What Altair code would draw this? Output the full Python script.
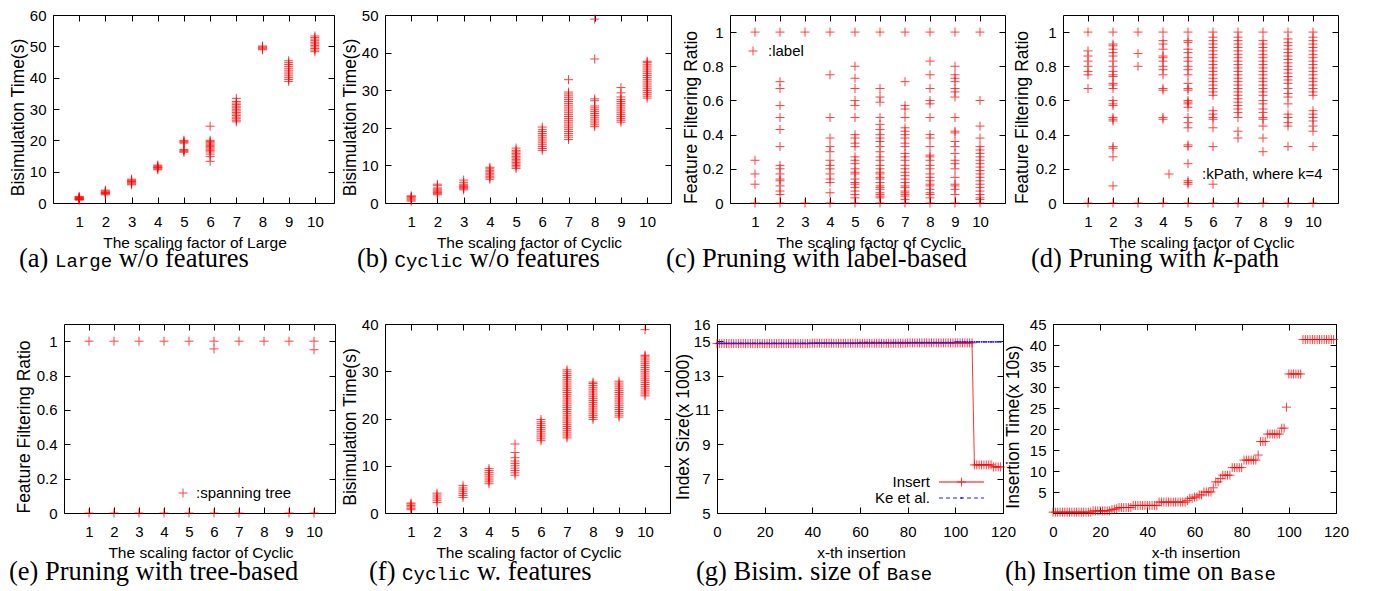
import altair as alt
import pandas as pd

# ------------------------------------------------------------------ data
# (a) Bisimulation time, Large w/o features  (scaling factor -> times)
A_LARGE = {
    1: [0.9, 1.1, 1.3, 1.5, 1.7, 1.9, 2.1, 1.2, 1.6],
    2: [2.6, 2.9, 3.2, 3.5, 3.8, 4.1, 3.0, 3.4],
    3: [5.8, 6.1, 6.4, 6.7, 7.0, 7.3, 7.6, 6.9],
    4: [10.6, 10.9, 11.2, 11.5, 11.8, 12.1, 11.4],
    5: [16.2, 16.5, 16.8, 17.1, 19.1, 19.4, 19.7, 20.0],
    6: [13.3, 14.8, 15.6, 16.3, 16.8, 17.2, 17.6, 18.0, 18.4, 18.8, 19.2, 19.6, 20.0, 24.5],
    7: [25.9, 26.4, 26.9, 27.4, 27.9, 28.4, 28.9, 29.4, 29.9, 30.4, 30.9, 31.4, 31.9, 32.4, 33.4],
    8: [48.9, 49.2, 49.5, 49.8, 50.1],
    9: [38.8, 39.4, 40.0, 40.6, 41.2, 41.8, 42.4, 43.0, 43.6, 44.2, 44.8, 45.4],
    10: [48.3, 48.8, 49.3, 49.8, 50.3, 50.8, 51.3, 51.8, 52.3, 52.8, 53.3],
}
# (b) Bisimulation time, Cyclic w/o features
B_CYCLIC = {
    1: [0.5, 0.8, 1.1, 1.4, 1.7, 1.9],
    2: [2.2, 2.5, 2.8, 3.1, 3.4, 3.7, 4.0, 4.6, 5.0],
    3: [3.5, 3.8, 4.1, 4.4, 4.7, 5.0, 5.5, 6.1],
    4: [6.3, 6.7, 7.1, 7.5, 7.9, 8.3, 8.7, 9.1, 9.5],
    5: [9.2, 9.6, 10.0, 10.4, 10.8, 11.2, 11.6, 12.0, 12.4, 12.8, 13.2, 13.6, 14.0, 14.6],
    6: [14.0, 14.5, 15.0, 15.5, 16.0, 16.5, 17.0, 17.5, 18.0, 18.5, 19.0, 19.5, 20.2],
    7: [16.9, 17.5, 18.0, 18.5, 19.0, 19.5, 20.0, 20.5, 21.0, 21.5, 22.0, 22.5, 23.0, 23.5,
        24.0, 24.5, 25.0, 25.5, 26.0, 26.5, 27.0, 27.5, 28.0, 28.5, 29.0, 29.5, 32.8],
    8: [20.3, 20.8, 21.3, 21.8, 22.3, 22.8, 23.3, 23.8, 24.3, 24.8, 25.3, 25.8, 27.2, 27.7,
        38.3, 48.9],
    9: [21.5, 22.0, 22.5, 23.0, 23.5, 24.0, 24.5, 25.0, 25.5, 26.0, 26.5, 27.0, 27.5, 28.2,
        29.3, 30.7],
    10: [27.9, 28.4, 28.9, 29.4, 29.9, 30.4, 30.9, 31.4, 31.9, 32.4, 32.9, 33.4, 33.9, 34.4,
         34.9, 35.4, 35.9, 36.4, 36.9, 37.4, 37.7],
}
# (c) Feature filtering ratio, label-based pruning
C_LABEL = {
    1: [1.0, 0.25, 0.17, 0.11, 0.0],
    2: [1.0, 0.71, 0.67, 0.57, 0.5, 0.43, 0.33, 0.22, 0.2, 0.17, 0.14, 0.13, 0.1, 0.07, 0.05, 0.0],
    3: [1.0, 0.0],
    4: [1.0, 0.75, 0.5, 0.38, 0.33, 0.3, 0.25, 0.22, 0.2, 0.17, 0.14, 0.12, 0.06, 0.0],
    5: [1.0, 0.8, 0.73, 0.67, 0.6, 0.57, 0.5, 0.4, 0.38, 0.35, 0.33, 0.27, 0.25, 0.23, 0.2,
        0.18, 0.17, 0.14, 0.12, 0.11, 0.09, 0.07, 0.05, 0.03, 0.0],
    6: [1.0, 0.67, 0.62, 0.59, 0.5, 0.46, 0.43, 0.4, 0.38, 0.36, 0.33, 0.3, 0.27, 0.25, 0.22,
        0.2, 0.18, 0.17, 0.15, 0.14, 0.12, 0.1, 0.09, 0.08, 0.06, 0.05, 0.04, 0.03, 0.0],
    7: [1.0, 0.71, 0.57, 0.55, 0.5, 0.44, 0.42, 0.4, 0.38, 0.35, 0.33, 0.29, 0.27, 0.25, 0.22,
        0.2, 0.18, 0.16, 0.14, 0.12, 0.1, 0.09, 0.07, 0.06, 0.05, 0.04, 0.02, 0.0],
    8: [1.0, 0.83, 0.75, 0.67, 0.6, 0.58, 0.5, 0.4, 0.38, 0.33, 0.28, 0.27, 0.25, 0.22, 0.2,
        0.17, 0.15, 0.13, 0.11, 0.1, 0.08, 0.06, 0.05, 0.03, 0.0],
    9: [1.0, 0.8, 0.75, 0.73, 0.71, 0.67, 0.65, 0.62, 0.5, 0.42, 0.41, 0.36, 0.33, 0.29, 0.25,
        0.23, 0.2, 0.15, 0.11, 0.1, 0.08, 0.05, 0.0],
    10: [1.0, 0.6, 0.45, 0.38, 0.33, 0.31, 0.29, 0.27, 0.25, 0.23, 0.21, 0.19, 0.17, 0.15, 0.13,
         0.11, 0.09, 0.07, 0.05, 0.03, 0.02, 0.0],
}
# (d) Feature filtering ratio, k-path pruning
D_KPATH = {
    1: [1.0, 0.89, 0.86, 0.83, 0.8, 0.77, 0.75, 0.67, 0.0],
    2: [1.0, 0.93, 0.92, 0.9, 0.88, 0.86, 0.83, 0.8, 0.77, 0.75, 0.74, 0.7, 0.69, 0.67, 0.6,
        0.58, 0.57, 0.5, 0.49, 0.48, 0.33, 0.32, 0.27, 0.1, 0.0],
    3: [1.0, 0.875, 0.8, 0.0],
    4: [1.0, 0.95, 0.93, 0.9, 0.86, 0.85, 0.83, 0.8, 0.78, 0.75, 0.67, 0.66, 0.5, 0.49, 0.0],
    5: [1.0, 0.95, 0.94, 0.9, 0.88, 0.85, 0.83, 0.8, 0.78, 0.75, 0.7, 0.67, 0.66, 0.6, 0.59,
        0.58, 0.56, 0.5, 0.47, 0.44, 0.34, 0.33, 0.23, 0.13, 0.12, 0.11, 0.0],
    6: [1.0, 0.97, 0.95, 0.93, 0.91, 0.89, 0.87, 0.85, 0.83, 0.81, 0.79, 0.77, 0.75, 0.73,
        0.71, 0.69, 0.67, 0.65, 0.63, 0.54, 0.52, 0.5, 0.49, 0.44, 0.33, 0.11, 0.0],
    7: [1.0, 0.97, 0.95, 0.93, 0.91, 0.89, 0.87, 0.85, 0.83, 0.81, 0.79, 0.77, 0.75, 0.73,
        0.71, 0.69, 0.67, 0.65, 0.63, 0.61, 0.59, 0.57, 0.55, 0.53, 0.5, 0.42, 0.38, 0.0],
    8: [1.0, 0.95, 0.93, 0.91, 0.89, 0.87, 0.85, 0.83, 0.81, 0.79, 0.77, 0.75, 0.73, 0.71,
        0.69, 0.67, 0.65, 0.63, 0.6, 0.58, 0.55, 0.53, 0.5, 0.49, 0.45, 0.38, 0.3, 0.0],
    9: [1.0, 0.96, 0.94, 0.92, 0.9, 0.88, 0.86, 0.84, 0.82, 0.8, 0.78, 0.76, 0.74, 0.72, 0.7,
        0.67, 0.64, 0.62, 0.58, 0.52, 0.5, 0.47, 0.45, 0.33, 0.0],
    10: [1.0, 0.97, 0.95, 0.93, 0.91, 0.89, 0.87, 0.85, 0.83, 0.81, 0.79, 0.77, 0.75, 0.73,
         0.71, 0.69, 0.67, 0.65, 0.63, 0.54, 0.52, 0.5, 0.48, 0.45, 0.42, 0.33, 0.0],
}
# (e) Feature filtering ratio, tree-based pruning
E_TREE = {
    1: [1.0, 0.0], 2: [1.0, 0.0], 3: [1.0, 0.0], 4: [1.0, 0.0], 5: [1.0, 0.0],
    6: [1.0, 0.955, 0.0], 7: [1.0, 0.0], 8: [1.0], 9: [1.0, 0.0], 10: [1.0, 0.95, 0.0],
}
# (f) Bisimulation time, Cyclic with features
F_CYCLIC = {
    1: [0.7, 1.0, 1.3, 1.6, 1.9, 2.1],
    2: [2.2, 2.6, 3.0, 3.4, 3.8, 4.2],
    3: [3.3, 3.7, 4.1, 4.5, 4.9, 5.3, 5.8],
    4: [6.2, 6.6, 7.0, 7.4, 7.8, 8.2, 8.6, 9.0, 9.4],
    5: [8.0, 8.5, 9.0, 9.5, 10.0, 10.5, 11.0, 11.7, 12.8, 14.6],
    6: [15.3, 15.7, 16.1, 16.5, 16.9, 17.3, 17.7, 18.1, 18.5, 18.9, 19.3, 19.8],
    7: [15.9, 16.3, 16.7, 17.1, 17.5, 17.9, 18.3, 18.7, 19.1, 19.5, 19.9, 20.3, 20.7, 21.1,
        21.5, 21.9, 22.3, 22.7, 23.1, 23.5, 23.9, 24.3, 24.7, 25.1, 25.5, 25.9, 26.3, 26.7,
        27.1, 27.5, 27.9, 28.3, 28.7, 29.1, 29.5, 29.9, 30.3],
    8: [19.8, 20.2, 20.6, 21.0, 21.4, 21.8, 22.2, 22.6, 23.0, 23.4, 23.8, 24.2, 24.6, 25.0,
        25.4, 25.8, 26.2, 26.6, 27.0, 27.4, 27.7],
    9: [20.3, 20.7, 21.1, 21.5, 21.9, 22.3, 22.7, 23.1, 23.5, 23.9, 24.3, 24.7, 25.1, 25.5,
        25.9, 26.3, 26.7, 27.1, 27.5, 27.9],
    10: [24.8, 25.2, 25.6, 26.0, 26.4, 26.8, 27.2, 27.6, 28.0, 28.4, 28.8, 29.2, 29.6, 30.0,
         30.4, 30.8, 31.2, 31.6, 32.0, 32.4, 32.8, 33.2, 33.4, 38.8],
}
# (g) Index size (x1000) per insertion: runs of (value, count) starting at insertion 0
G_INSERT_RUNS = [(14.86, 40), (14.88, 40), (14.9, 28), (7.8, 8), (7.68, 4)]
G_KE_RUNS = [(14.88, 60), (14.92, 40), (14.96, 20)]
# (h) Insertion time (x10s) per insertion: runs of (value, count)
H_RUNS = [(0.2, 17), (0.5, 8), (0.8, 1), (0.9, 1), (1.0, 1), (1.3, 6), (1.8, 11), (2.6, 12),
          (3.0, 1), (3.5, 2), (3.8, 2), (4.3, 2), (5.0, 4), (6.0, 1), (7.4, 2), (8.2, 1),
          (9.0, 4), (10.8, 5), (12.6, 6), (13.8, 1), (17.0, 3), (18.8, 6), (20.2, 2),
          (25.2, 1), (33.1, 6), (41.3, 14)]

SCALE_TICKS = [1, 2, 3, 4, 5, 6, 7, 8, 9, 10]
RATIO_TICKS = [0, 0.2, 0.4, 0.6, 0.8, 1]
INS_TICKS = [0, 20, 40, 60, 80, 100, 120]

# ------------------------------------------------------------------ style
SANS = "Liberation Sans"
SERIF = "Liberation Serif"
MONO = "Liberation Mono"
RED = "#ff0000"
BLUE = "#1f1fff"
PLUS = "M-1,0L1,0M0,-1L0,1"
LABEL_SIZE = 15
XTITLE_SIZE = 15.5
YTITLE_SIZE = 17.5
SERIF_SIZE = 26.5
MONO_SIZE = 19

# panel geometry (plot-area left/top in page pixels, width, height)
GEOM = {
    "a": (52, 14, 281, 188), "b": (384, 14, 286, 188), "c": (729, 14, 275, 188),
    "d": (1062, 14, 275, 188), "e": (63, 324, 271, 189), "f": (384, 324, 285, 189),
    "g": (716, 324, 286, 189), "h": (1052, 324, 283, 189),
}

TIMES = {' ': 250, '(': 333, ')': 333, 'a': 444, 'b': 500, 'c': 444, 'd': 500, 'e': 444,
         'f': 333, 'g': 500, 'h': 500, 'i': 278, 'k': 500, 'l': 278, 'm': 778, 'n': 500,
         'o': 500, 'p': 500, 'r': 333, 's': 389, 't': 278, 'u': 500, 'w': 722, 'z': 444,
         '.': 250, '/': 278, '-': 333, 'B': 667, 'I': 333, 'P': 556}


def seg_width(text, kind):
    if kind == "mono":
        return len(text) * 0.6 * MONO_SIZE
    if kind == "italic":
        return sum(444 if c == 'k' else TIMES.get(c, 500) for c in text) / 1000 * SERIF_SIZE
    return sum(TIMES.get(c, 500) for c in text) / 1000 * SERIF_SIZE


# caption: (start x, baseline y) in page pixels and segments
CAPTIONS = {
    "a": (18, 266, [("(a) ", "serif"), ("Large", "mono"), (" w/o features", "serif")]),
    "b": (356, 266, [("(b) ", "serif"), ("Cyclic", "mono"), (" w/o features", "serif")]),
    "c": (665, 266, [("(c) Pruning with label-based", "serif")]),
    "d": (1030, 266, [("(d) Pruning with ", "serif"), ("k", "italic"), ("-path", "serif")]),
    "e": (8, 580, [("(e) Pruning with tree-based", "serif")]),
    "f": (368, 580, [("(f) ", "serif"), ("Cyclic", "mono"), (" w. features", "serif")]),
    "g": (695, 580, [("(g) Bisim. size of ", "serif"), ("Base", "mono")]),
    "h": (1004, 580, [("(h) Insertion time on ", "serif"), ("Base", "mono")]),
}

# point legends: marker x, y and text start x in page pixels
LEGENDS = {
    "c": (752, 50, 767, ":label"),
    "d": (1168, 173, 1201, ":kPath, where k=4"),
    "e": (182, 493, 195, ":spanning tree"),
}


def one_row():
    return alt.Data(values=[{"k": 0}])


def text_at(txt, x, y, font, size, align="left", baseline="alphabetic", italic=False,
            color="black"):
    kw = dict(font=font, fontSize=size, align=align, baseline=baseline, color=color)
    if italic:
        kw["fontStyle"] = "italic"
    return alt.Chart(one_row()).mark_text(**kw).encode(
        x=alt.value(x), y=alt.value(y), text=alt.value(txt))


def anchor(x, y):
    # invisible 1px marker that fixes the outer extent of a row for layout
    return alt.Chart(one_row()).mark_point(shape="square", size=1, filled=True, opacity=0).encode(
        x=alt.value(x), y=alt.value(y))


def caption_layers(key):
    left, top, _, _ = GEOM[key]
    sx, by, segs = CAPTIONS[key]
    out = []
    x = sx
    for text, kind in segs:
        if kind == "mono":
            font, size, it = MONO, MONO_SIZE, False
        elif kind == "italic":
            font, size, it = SERIF, SERIF_SIZE, True
        else:
            font, size, it = SERIF, SERIF_SIZE, False
        lead = len(text) - len(text.lstrip(" "))
        xs = x + seg_width(" " * lead, kind)
        out.append(text_at(text.strip(" "), xs - left, by - top, font, size, italic=it))
        x += seg_width(text, kind)
    return out


LABEL_EXPR = "'' + datum.value"


def x_axis(values, w, h, title):
    return alt.Axis(values=values, title=title, labelExpr=LABEL_EXPR, grid=True,
                    gridColor="black", gridOpacity=1, gridWidth=1, gridDash=[6, h - 12],
                    ticks=False, tickSize=0, domain=False, labelFont=SANS,
                    labelFontSize=LABEL_SIZE, labelColor="black", labelPadding=18,
                    labelBaseline="middle", labelAngle=0, labelOverlap=False, labelFlush=False,
                    titleFont=SANS, titleFontSize=XTITLE_SIZE, titleFontWeight="normal",
                    titleColor="black", titleX=w / 2 + 1, titleY=39, titleAlign="center",
                    titleBaseline="middle")


def y_axis(values, w, h, title, tx):
    return alt.Axis(values=values, title=title, labelExpr=LABEL_EXPR, grid=True,
                    gridColor="black", gridOpacity=1, gridWidth=1, gridDash=[6, w - 12],
                    ticks=False, tickSize=0, domain=False, labelFont=SANS,
                    labelFontSize=LABEL_SIZE, labelColor="black", labelPadding=7,
                    labelBaseline="middle", labelOverlap=False, labelFlush=False,
                    titleFont=SANS, titleFontSize=YTITLE_SIZE, titleFontWeight="normal",
                    titleColor="black", titleX=tx, titleY=h / 2 + 8, titleAngle=270,
                    titleAlign="center", titleBaseline="middle")


def long_df(d):
    return pd.DataFrame([{"x": k, "y": v} for k, vals in d.items() for v in vals])


def runs_df(runs):
    ys = []
    for v, n in runs:
        ys.extend([v] * n)
    return pd.DataFrame({"x": list(range(len(ys))), "y": ys})


def plus_mark(**extra):
    kw = dict(shape=PLUS, filled=False, size=81, strokeWidth=1, color=RED, opacity=0.75)
    kw.update(extra)
    return kw


def scatter_panel(key, data, xdom, ydom, yvals, ytitle, xtitle, tx, extra=()):
    left, top, w, h = GEOM[key]
    base = alt.Chart(long_df(data)).mark_point(**plus_mark()).encode(
        x=alt.X("x:Q", scale=alt.Scale(domain=xdom, nice=False, zero=False),
                axis=x_axis(SCALE_TICKS, w, h, xtitle)),
        y=alt.Y("y:Q", scale=alt.Scale(domain=ydom, nice=False, zero=False),
                axis=y_axis(yvals, w, h, ytitle, tx)),
    )
    layers = [base]
    if key in LEGENDS:
        lx, ly, tx2, txt = LEGENDS[key]
        layers.append(alt.Chart(one_row()).mark_point(**plus_mark()).encode(
            x=alt.value(lx - left), y=alt.value(ly - top)))
        layers.append(text_at(txt, tx2 - left, ly - top, SANS, LABEL_SIZE, baseline="middle"))
    layers += caption_layers(key)
    layers += list(extra)
    return alt.layer(*layers).properties(width=w, height=h)


A_L, A_T = GEOM["a"][0], GEOM["a"][1]
E_L, E_T = GEOM["e"][0], GEOM["e"][1]
# row anchors: row 1 spans page y 6..285 from x=8, row 2 starts at page y 300 from x=8
pa = scatter_panel("a", A_LARGE, [0, 10.73], [0, 60], [0, 10, 20, 30, 40, 50, 60],
                   "Bisimulation Time(s)", "The scaling factor of Large", -35,
                   extra=[anchor(8 - A_L, 6 - A_T), anchor(8 - A_L, 285 - A_T)])
pb = scatter_panel("b", B_CYCLIC, [0, 10.91], [0, 50], [0, 10, 20, 30, 40, 50],
                   "Bisimulation Time(s)", "The scaling factor of Cyclic", -35)
pc = scatter_panel("c", C_LABEL, [0, 11], [0, 1.1], RATIO_TICKS,
                   "Feature Filtering Ratio", "The scaling factor of Cyclic", -39)
pd_ = scatter_panel("d", D_KPATH, [0, 11], [0, 1.1], RATIO_TICKS,
                    "Feature Filtering Ratio", "The scaling factor of Cyclic", -41)
pe = scatter_panel("e", E_TREE, [0, 10.84], [0, 1.1], RATIO_TICKS,
                   "Feature Filtering Ratio", "The scaling factor of Cyclic", -40,
                   extra=[anchor(8 - E_L, 300 - E_T)])
pf = scatter_panel("f", F_CYCLIC, [0, 10.96], [0, 40], [0, 10, 20, 30, 40],
                   "Bisimulation Time(s)", "The scaling factor of Cyclic", -35)

# (g) index size
gl, gt, gw, gh = GEOM["g"]
g_ins = runs_df(G_INSERT_RUNS)
g_ke = runs_df(G_KE_RUNS)
gx = alt.X("x:Q", scale=alt.Scale(domain=[0, 120], nice=False, zero=False),
           axis=x_axis(INS_TICKS, gw, gh, "x-th insertion"))
gy = alt.Y("y:Q", scale=alt.Scale(domain=[5, 16], nice=False, zero=False),
           axis=y_axis([5, 7, 9, 11, 13, 15, 16], gw, gh, "Index Size(x 1000)", -34))
LG_Y1, LG_Y2 = 482 - gt, 498 - gt
LG_TX, LG_X1, LG_X2 = 929 - gl, 938 - gl, 983 - gl
g_layers = [
    alt.Chart(g_ins).mark_line(color=RED, strokeWidth=1, opacity=0.8).encode(x=gx, y=gy),
    alt.Chart(g_ins).mark_point(**plus_mark()).encode(x=gx, y=gy),
    alt.Chart(g_ke).mark_line(color=BLUE, strokeWidth=1, strokeDash=[4, 3]).encode(x=gx, y=gy),
    alt.Chart(g_ke).mark_point(shape="square", filled=True, size=3, color=BLUE, opacity=1).encode(x=gx, y=gy),
    text_at("Insert", LG_TX, LG_Y1, SANS, LABEL_SIZE, align="right", baseline="middle"),
    text_at("Ke et al.", LG_TX, LG_Y2, SANS, LABEL_SIZE, align="right", baseline="middle"),
    alt.Chart(one_row()).mark_rule(color=RED, strokeWidth=1).encode(
        x=alt.value(LG_X1), x2=alt.value(LG_X2), y=alt.value(LG_Y1)),
    alt.Chart(one_row()).mark_point(**plus_mark()).encode(
        x=alt.value((LG_X1 + LG_X2) / 2), y=alt.value(LG_Y1)),
    alt.Chart(one_row()).mark_rule(color=BLUE, strokeWidth=1, strokeDash=[4, 3]).encode(
        x=alt.value(LG_X1), x2=alt.value(LG_X2), y=alt.value(LG_Y2)),
    alt.Chart(one_row()).mark_point(shape="square", filled=True, size=3, color=BLUE, opacity=1).encode(
        x=alt.value((LG_X1 + LG_X2) / 2), y=alt.value(LG_Y2)),
] + caption_layers("g")
pg = alt.layer(*g_layers).properties(width=gw, height=gh)

# (h) insertion time
hl, ht, hw, hh = GEOM["h"]
h_df = runs_df(H_RUNS)
ph = alt.layer(
    alt.Chart(h_df).mark_point(**plus_mark()).encode(
        x=alt.X("x:Q", scale=alt.Scale(domain=[0, 120], nice=False, zero=False),
                axis=x_axis(INS_TICKS, hw, hh, "x-th insertion")),
        y=alt.Y("y:Q", scale=alt.Scale(domain=[0, 45], nice=False, zero=False),
                axis=y_axis([5, 10, 15, 20, 25, 30, 35, 40, 45], hw, hh,
                            "Insertion Time(x 10s)", -40)),
    ),
    *caption_layers("h"),
).properties(width=hw, height=hh)


def spacer(w):
    return alt.Chart(one_row()).mark_point(opacity=0).encode(
        x=alt.value(0), y=alt.value(0)).properties(
        width=w, height=1, view=alt.ViewBackground(strokeOpacity=0))


# leading spacers: row origins are aligned, so e sits 11px right of a
row1 = alt.hconcat(spacer(1), pa, spacer(41), pb, spacer(49), pc, spacer(48), pd_,
                   spacing=5, bounds="flush")
row2 = alt.hconcat(spacer(12), pe, spacer(40), pf, spacer(37), pg, spacer(40), ph,
                   spacing=5, bounds="flush")

chart = alt.vconcat(row1, row2, spacing=12).properties(
    padding={"left": 0, "top": -2, "right": 0, "bottom": 0},
    background="white",
).configure_view(stroke="black", strokeWidth=1)

chart.save("out.html", embed_options={"renderer": "svg", "actions": False})
